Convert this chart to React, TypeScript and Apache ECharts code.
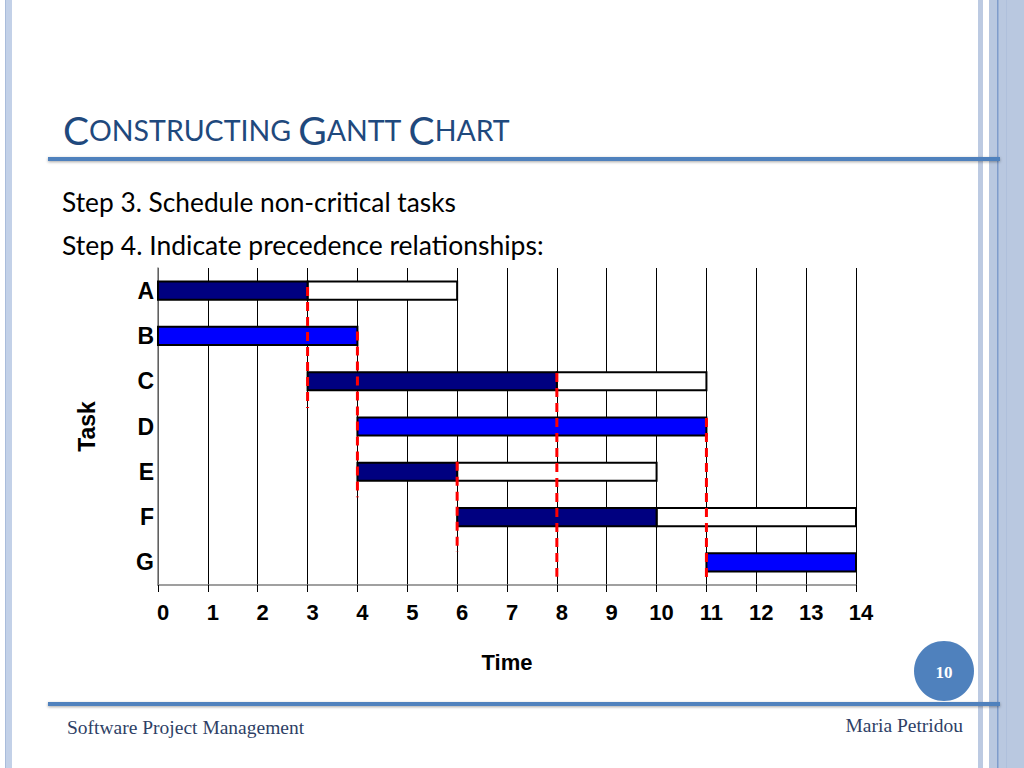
import React, { useEffect, useRef } from "react";
import * as echarts from "echarts";

const tasks = ["A", "B", "C", "D", "E", "F", "G"];
const starts = [0, 0, 3, 4, 4, 6, 11];
const durations = [3, 4, 5, 7, 2, 4, 3];
const slacks = [3, 0, 3, 0, 4, 4, 0];
const critical = [false, true, false, true, false, false, true];

// precedence dashed lines: time, from (task-row units), to (task-row units)
const precTime = [3, 4, 6, 8, 11];
const precFrom = [-0.08, 0.9, 3.78, 1.82, 2.81];
const precTo = [2.59, 4.56, 5.77, 6.32, 6.45];

const xTicks = [0, 14, 1];

const NAVY = "#000080";
const BLUE = "#0000FF";
const SLIDE_BLUE = "#4F81BD";
const TITLE_BLUE = "#1F497D";

export default function App() {
  const ref = useRef<HTMLDivElement>(null);

  useEffect(() => {
    if (!ref.current) return;
    const chart = echarts.init(ref.current, null, { renderer: "svg" });

    const barData = tasks.map((t, i) => [i, starts[i], durations[i], slacks[i], critical[i] ? 1 : 0]);
    const precData = precTime.map((t, i) => [t, precFrom[i], precTo[i]]);

    const option: any = {
      animation: false,
      backgroundColor: "#ffffff",
      grid: { left: 158, right: 168, top: 268, height: 317, containLabel: false },
      xAxis: {
        type: "value",
        min: xTicks[0],
        max: xTicks[1],
        interval: xTicks[2],
        name: "Time",
        nameLocation: "middle",
        nameGap: 66,
        nameTextStyle: {
          fontFamily: "'Liberation Sans', Arial, sans-serif",
          fontWeight: "bold",
          fontSize: 22,
          color: "#000",
        },
        axisLine: { show: true, onZero: false, lineStyle: { color: "#808080", width: 1.5 } },
        axisTick: { show: true, length: 7, lineStyle: { color: "#000", width: 1 } },
        axisLabel: {
          margin: 16,
          padding: [0, 0, 0, 10],
          fontFamily: "'Liberation Sans', Arial, sans-serif",
          fontWeight: "bold",
          fontSize: 22,
          color: "#000",
        },
        splitLine: { show: true, lineStyle: { color: "#000", width: 1 } },
      },
      yAxis: [
        {
          type: "category",
          data: tasks,
          inverse: true,
          name: "Task",
          nameLocation: "middle",
          nameGap: 60,
          nameTextStyle: {
            fontFamily: "'Liberation Sans', Arial, sans-serif",
            fontWeight: "bold",
            fontSize: 23,
            color: "#000",
          },
          axisLine: { show: true, onZero: false, lineStyle: { color: "#808080", width: 1.5 } },
          axisTick: { show: false },
          axisLabel: {
            margin: 4,
            fontFamily: "'Liberation Sans', Arial, sans-serif",
            fontWeight: "bold",
            fontSize: 23,
            color: "#000",
          },
          splitLine: { show: false },
        },
        {
          type: "value",
          show: false,
          inverse: true,
          min: -0.5,
          max: 6.5,
          axisLine: { show: false, onZero: false },
          splitLine: { show: false },
        },
      ],
      series: [
        {
          type: "custom",
          xAxisIndex: 0,
          yAxisIndex: 1,
          z: 3,
          data: barData,
          renderItem: (params: any, api: any) => {
            const idx = api.value(0);
            const s = api.value(1);
            const d = api.value(2);
            const sl = api.value(3);
            const crit = api.value(4);
            const h = api.size([0, 0.4])[1];
            const p0 = api.coord([s, idx]);
            const p1 = api.coord([s + d, idx]);
            const p2 = api.coord([s + d + sl, idx]);
            const children: any[] = [];
            if (sl > 0) {
              children.push({
                type: "rect",
                shape: { x: p1[0], y: p1[1] - h / 2, width: p2[0] - p1[0], height: h },
                style: { fill: "#ffffff", stroke: "#000", lineWidth: 2 },
              });
            }
            children.push({
              type: "rect",
              shape: { x: p0[0], y: p0[1] - h / 2, width: p1[0] - p0[0], height: h },
              style: { fill: crit ? BLUE : NAVY, stroke: "#000", lineWidth: 2 },
            });
            return { type: "group", children };
          },
        },
        {
          type: "custom",
          xAxisIndex: 0,
          yAxisIndex: 1,
          z: 5,
          data: precData,
          renderItem: (params: any, api: any) => {
            const a = api.coord([api.value(0), api.value(1)]);
            const b = api.coord([api.value(0), api.value(2)]);
            return {
              type: "line",
              shape: { x1: a[0], y1: a[1], x2: b[0], y2: b[1] },
              style: { stroke: "#FF0000", lineWidth: 3, lineDash: [9, 6] },
            };
          },
        },
      ],
      graphic: [
        // left decorative stripe
        { type: "rect", shape: { x: 5, y: 0, width: 7, height: 768 }, style: { fill: "#C3D1E8" }, silent: true },
        { type: "rect", shape: { x: 5, y: 0, width: 1, height: 768 }, style: { fill: "#A9BCDB" }, silent: true },
        // right decorative bands
        { type: "rect", shape: { x: 978, y: 0, width: 5, height: 768 }, style: { fill: "#BCCAE2" }, silent: true },
        { type: "rect", shape: { x: 989, y: 0, width: 35, height: 768 }, style: { fill: "#B9C8E0" }, silent: true },
        { type: "rect", shape: { x: 997, y: 0, width: 1.5, height: 768 }, style: { fill: "#7F9CCB" }, silent: true },
        { type: "rect", shape: { x: 1006, y: 0, width: 1, height: 768 }, style: { fill: "#AFC0DC" }, silent: true },
        // title rule
        {
          type: "rect",
          shape: { x: 48, y: 157, width: 952, height: 4 },
          style: { fill: SLIDE_BLUE, shadowBlur: 3, shadowColor: "rgba(0,0,0,0.35)", shadowOffsetY: 1 },
          silent: true,
        },
        // footer rule
        {
          type: "rect",
          shape: { x: 48, y: 702, width: 952, height: 4 },
          style: { fill: SLIDE_BLUE, shadowBlur: 3, shadowColor: "rgba(0,0,0,0.35)", shadowOffsetY: 1 },
          silent: true,
        },
        // title
        {
          type: "text",
          x: 63,
          y: 149,
          silent: true,
          style: {
            text: "{b|C}{s|ONSTRUCTING} {b|G}{s|ANTT} {b|C}{s|HART}",
            verticalAlign: "bottom",
            fill: TITLE_BLUE,
            rich: {
              b: { fontFamily: "Lato, 'Open Sans', sans-serif", fontSize: 39, fill: TITLE_BLUE },
              s: { fontFamily: "Lato, 'Open Sans', sans-serif", fontSize: 28.5, fill: TITLE_BLUE },
            },
            font: "28px Lato",
          },
        },
        {
          type: "text",
          x: 62,
          y: 202,
          silent: true,
          style: {
            text: "Step 3. Schedule non-critical tasks",
            fontFamily: "Lato, 'Open Sans', sans-serif",
            fontSize: 26.3,
            fill: "#000",
            verticalAlign: "middle",
          },
        },
        {
          type: "text",
          x: 62,
          y: 245,
          silent: true,
          style: {
            text: "Step 4. Indicate precedence relationships:",
            fontFamily: "Lato, 'Open Sans', sans-serif",
            fontSize: 26.5,
            fill: "#000",
            verticalAlign: "middle",
          },
        },
        // page number
        {
          type: "ellipse",
          shape: { cx: 944, cy: 671, rx: 30, ry: 30 },
          style: { fill: SLIDE_BLUE },
          silent: true,
        },
        {
          type: "text",
          x: 944,
          y: 672,
          silent: true,
          style: {
            text: "10",
            fontFamily: "'Liberation Serif', 'DejaVu Serif', serif",
            fontWeight: "bold",
            fontSize: 17,
            fill: "#fff",
            align: "center",
            verticalAlign: "middle",
          },
        },
        // footer texts
        {
          type: "text",
          x: 67,
          y: 727,
          silent: true,
          style: {
            text: "Software Project Management",
            fontFamily: "'Liberation Serif', 'DejaVu Serif', serif",
            fontSize: 19.5,
            fill: "#2E3F66",
            verticalAlign: "middle",
          },
        },
        {
          type: "text",
          x: 963,
          y: 725,
          silent: true,
          style: {
            text: "Maria Petridou",
            fontFamily: "'Liberation Serif', 'DejaVu Serif', serif",
            fontSize: 19.5,
            fill: "#2E3F66",
            align: "right",
            verticalAlign: "middle",
          },
        },
      ],
    };

    chart.setOption(option);
    return () => chart.dispose();
  }, []);

  return (
    <div
      ref={ref}
      style={{ position: "absolute", left: 0, top: 0, width: 1024, height: 768, background: "#fff" }}
    />
  );
}
